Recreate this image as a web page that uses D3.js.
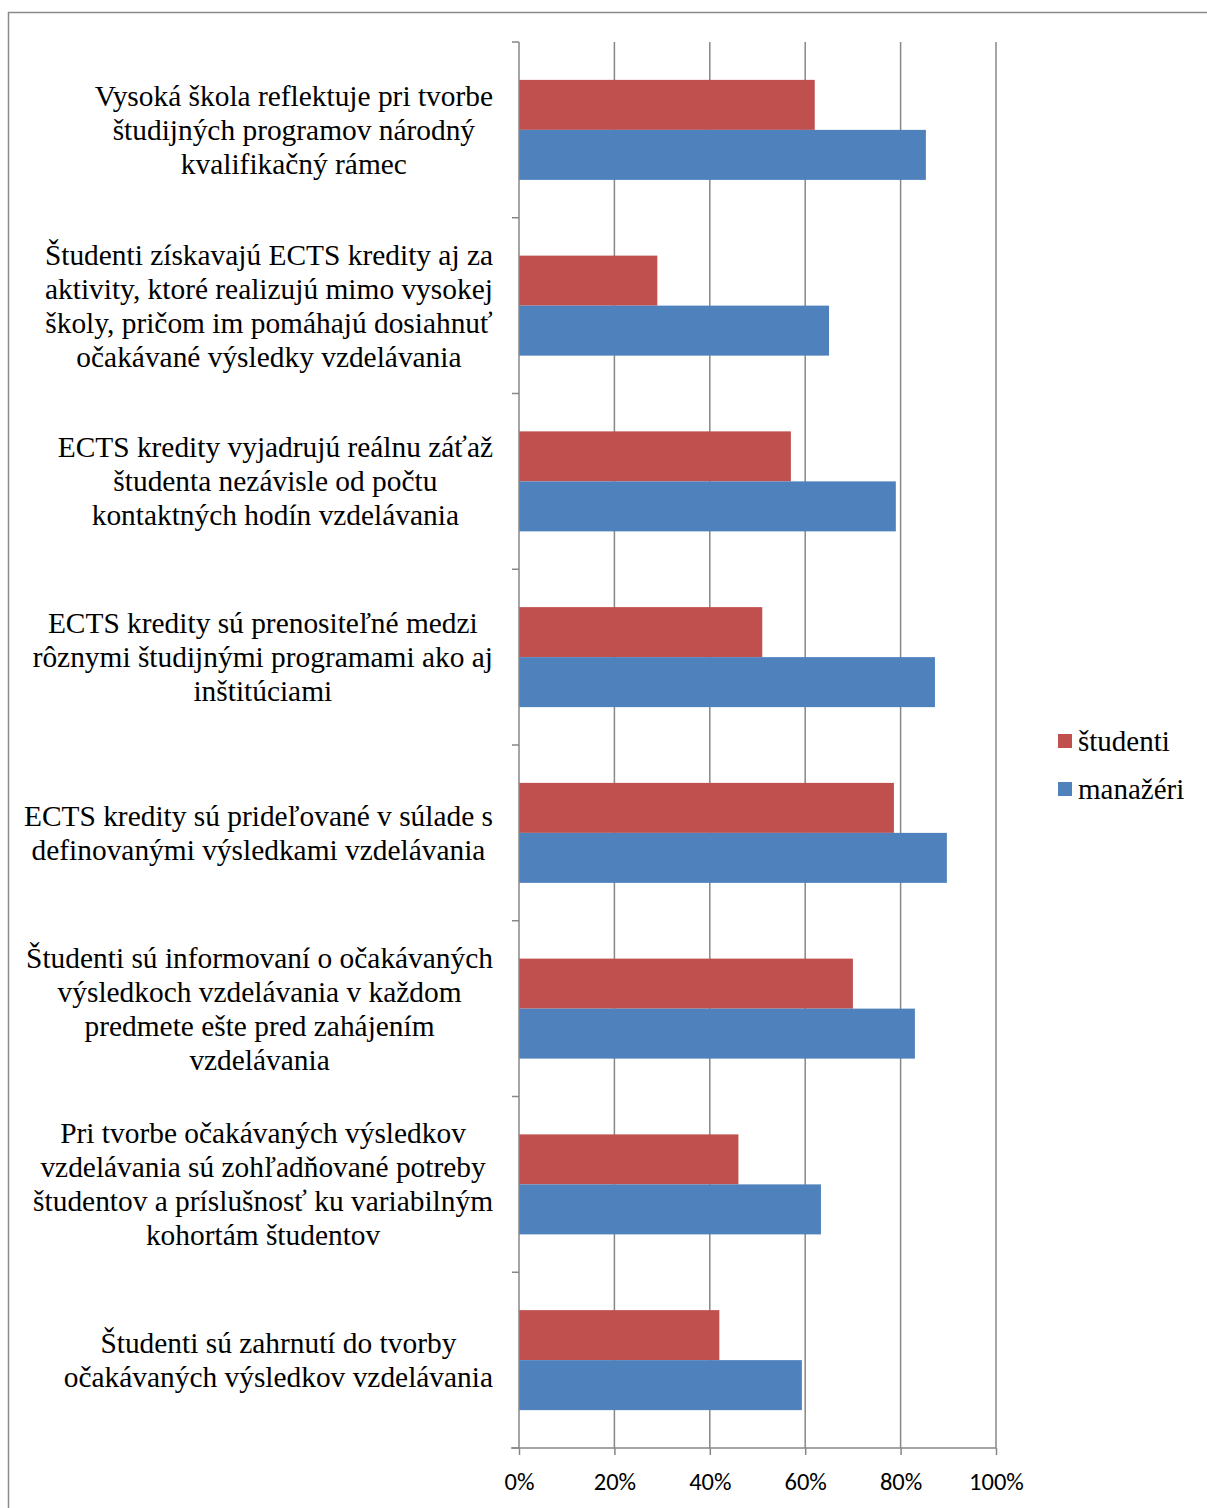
<!DOCTYPE html>
<html><head><meta charset="utf-8">
<script src="https://cdn.jsdelivr.net/npm/d3@7"></script>
<style>body{margin:0;background:#fff}svg{display:block}</style>
</head><body>
<script>
const categories = [
  ["Vysoká škola reflektuje pri tvorbe","študijných programov národný","kvalifikačný rámec"],
  ["Študenti získavajú ECTS kredity aj za","aktivity, ktoré realizujú mimo vysokej","školy, pričom im pomáhajú dosiahnuť","očakávané výsledky vzdelávania"],
  ["ECTS kredity vyjadrujú reálnu záťaž","študenta nezávisle od počtu","kontaktných hodín vzdelávania"],
  ["ECTS kredity sú prenositeľné medzi","rôznymi študijnými programami ako aj","inštitúciami"],
  ["ECTS kredity sú prideľované v súlade s","definovanými výsledkami vzdelávania"],
  ["Študenti sú informovaní o očakávaných","výsledkoch vzdelávania v každom","predmete ešte pred zahájením","vzdelávania"],
  ["Pri tvorbe očakávaných výsledkov","vzdelávania sú zohľadňované potreby","študentov a príslušnosť ku variabilným","kohortám študentov"],
  ["Študenti sú zahrnutí do tvorby","očakávaných výsledkov vzdelávania"]
];
const studenti = [0.62, 0.29, 0.57, 0.51, 0.786, 0.70, 0.46, 0.42];
const manazeri = [0.853, 0.65, 0.79, 0.872, 0.897, 0.83, 0.633, 0.593];
const seriesNames = ["študenti", "manažéri"];
const seriesColors = ["#C0504D", "#4F81BD"];
const tickValues = [0, 0.2, 0.4, 0.6, 0.8, 1.0];

const W = 1207, H = 1508;
const svg = d3.select("body").append("svg").attr("width", W).attr("height", H);

// outer border (top and left visible)
svg.append("line").attr("x1",8).attr("x2",W).attr("y1",12.5).attr("y2",12.5).attr("stroke","#8a8a8a").attr("stroke-width",1.5);
svg.append("line").attr("x1",8.5).attr("x2",8.5).attr("y1",12).attr("y2",H).attr("stroke","#8a8a8a").attr("stroke-width",1.5);

const x = d3.scaleLinear().domain([0,1]).range([519, 996]);
const y = d3.scaleBand().domain(d3.range(categories.length)).range([42, 1448]);
const grid = "#878787";

// gridlines
svg.append("g").selectAll("line").data(tickValues.slice(1)).join("line")
  .attr("x1", d=>x(d)).attr("x2", d=>x(d)).attr("y1", 42).attr("y2", 1448)
  .attr("stroke", grid).attr("stroke-width", 1.5);

// bars
const barH = 50;
const g = svg.append("g");
categories.forEach((c,i) => {
  const cy = y(i) + y.bandwidth()/2;
  g.append("rect").attr("x", x(0)).attr("y", cy - barH).attr("width", x(studenti[i]) - x(0)).attr("height", barH).attr("fill", seriesColors[0]);
  g.append("rect").attr("x", x(0)).attr("y", cy).attr("width", x(manazeri[i]) - x(0)).attr("height", barH).attr("fill", seriesColors[1]);
});

// y axis line & ticks
svg.append("line").attr("x1",519).attr("x2",519).attr("y1",42).attr("y2",1448).attr("stroke",grid).attr("stroke-width",1.5);
svg.append("g").selectAll("line").data(d3.range(categories.length+1)).join("line")
  .attr("x1",512).attr("x2",519)
  .attr("y1", d=> d<categories.length ? y(d) : 1448).attr("y2", d=> d<categories.length ? y(d) : 1448)
  .attr("stroke",grid).attr("stroke-width",1.5);

// x axis
const xAxis = d3.axisBottom(x).tickValues(tickValues).tickFormat(d3.format(".0%")).tickSize(7).tickSizeOuter(0);
const ax = svg.append("g").attr("transform","translate(0,1448)").call(xAxis);
ax.select(".domain").remove();
svg.append("line").attr("x1",511).attr("x2",996).attr("y1",1448).attr("y2",1448).attr("stroke",grid).attr("stroke-width",1.5);
ax.selectAll(".tick line").attr("stroke",grid).attr("stroke-width",1.5);
ax.selectAll(".tick text").attr("fill","#000").style("font-family","Carlito, 'Open Sans', sans-serif").style("font-size","24.5px").attr("dy",0).attr("y",36).attr("dominant-baseline","middle");

// category labels
const serifFont = "'Liberation Serif', Tinos, 'Times New Roman', serif";
const lh = 34;
const labG = svg.append("g").style("font-family",serifFont).style("font-size","29.4px").attr("fill","#000");
categories.forEach((lines,i) => {
  const cy = y(i) + y.bandwidth()/2;
  const tg = labG.append("g");
  const texts = lines.map((t,k) => tg.append("text").attr("y", cy + (k - (lines.length-1)/2)*lh).attr("dominant-baseline","central").attr("text-anchor","middle").text(t));
  const maxW = d3.max(texts, t => t.node().getComputedTextLength());
  texts.forEach(t => t.attr("x", 493 - maxW/2));
});

// legend
const leg = svg.append("g").style("font-family",serifFont).style("font-size","29px");
seriesNames.forEach((n,i) => {
  const ly = 741 + i*48;
  leg.append("rect").attr("x",1058).attr("y",ly-7).attr("width",14).attr("height",14).attr("fill",seriesColors[i]);
  leg.append("text").attr("x",1078).attr("y",ly).attr("dominant-baseline","central").text(n);
});
</script>
</body></html>
